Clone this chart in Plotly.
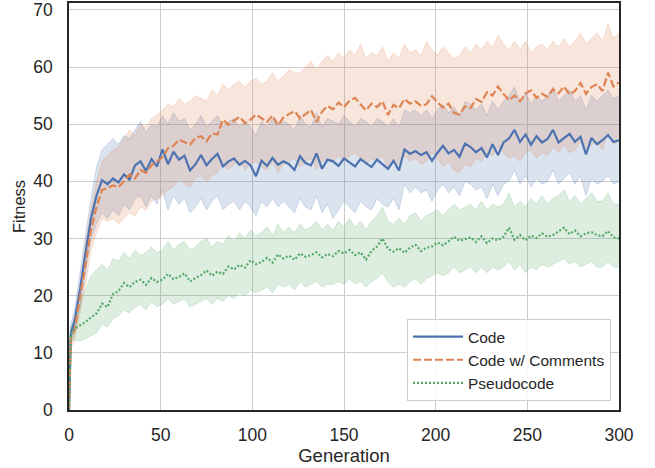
import plotly.graph_objects as go

generations = [0, 1] + list(range(3, 301, 3))

code_mean = [
    0, 13.5, 15.5, 21, 27.5, 33.5, 37.5, 40.2, 39.5, 40.5,
    39.8, 41.2, 40.3, 42.8, 43.5, 41.8, 43.9, 42.6, 45.6, 43.0,
    45.2, 43.8, 44.5, 41.9, 43.0, 44.6, 42.8, 43.9, 44.8, 42.6,
    43.5, 44.0, 42.9, 43.6, 42.8, 40.9, 43.6, 42.7, 44.1, 42.9,
    43.5, 43.0, 42.0, 44.4, 43.2, 42.8, 44.9, 42.2, 43.8, 43.5,
    42.7, 44.0, 43.3, 42.6, 43.9, 43.2, 42.5, 43.8, 43.0, 42.2,
    43.6, 41.9, 45.6, 44.8, 45.3, 44.6, 45.1, 43.6, 45.0, 46.2,
    44.9, 45.5, 44.3, 46.6, 46.0, 45.1, 45.8, 44.2, 46.5, 44.6,
    46.8, 47.5, 49.0, 46.9, 48.2, 46.4, 47.9, 46.8, 47.4, 49.0,
    46.8, 47.6, 48.3, 46.9, 47.8, 44.7, 47.6, 46.5, 47.2, 48.1,
    46.9, 47.2,
]
code_upper = [
    0, 15, 17.5, 24, 31, 37, 42.5, 45.5, 46.5, 47.5,
    46.5, 48, 47.5, 49, 50.5, 48.5, 50, 49.5, 51.5, 50,
    52, 50.5, 51, 49, 50, 51.5, 49.5, 50.5, 51.5, 49.5,
    50.5, 51, 49.5, 50.5, 49.5, 48, 50.5, 49.5, 51, 49.8,
    50.5, 50, 49, 51.5, 50, 49.5, 52, 49.5, 51, 50.5,
    50, 51.5, 50.5, 49.5, 51, 50.5, 49.5, 51, 50.5, 49.5,
    51, 49.5, 52.5, 52, 52.5, 51.5, 52.5, 51, 52.5, 53.5,
    52, 53, 51.5, 54, 53.5, 52.5, 53.5, 51.5, 54, 52.5,
    54, 55, 56.5, 54, 55.5, 53.5, 55, 54, 55, 56.5,
    54, 55, 56, 54, 55, 52.5, 55, 54, 55, 56,
    54.5, 55,
]
code_lower = [
    0, 12, 13.5, 18, 24, 30, 32.5, 34.5, 33.5, 35,
    34, 36, 35, 37, 37.5, 35.5, 37.5, 36, 38.5, 35,
    37.5, 36, 37, 34.5, 35.5, 37, 35, 36.5, 37.5, 35,
    36, 36.5, 35, 36.5, 35.5, 34, 36.5, 35.5, 37, 35.5,
    36.5, 35.5, 34.5, 37, 35.5, 35, 37.5, 34.5, 36, 33.5,
    35, 36.5, 35.5, 34.5, 36.5, 35.5, 35, 37, 36, 35.5,
    37, 35, 39.5, 38, 39, 38, 38.5, 36.5, 38.5, 39.5,
    38, 39, 37.5, 40, 39.5, 38.5, 39, 37, 39.5, 37.5,
    39.5, 40, 42, 39.5, 41, 39, 40.5, 39.5, 40, 42,
    39.5, 40.5, 41.5, 39.5, 41, 37.5, 40.5, 39.5, 40, 41,
    39.5, 40,
]

comments_mean = [
    0, 12.5, 14, 19.5, 25.5, 31.5, 35.5, 38.5, 38.8, 39.3,
    39.0, 40.0, 41.2, 40.5, 42.0, 41.5, 42.8, 43.5, 44.2, 45.8,
    46.2, 47.3, 46.8, 46.4, 47.6, 47.9, 47.0, 48.4, 48.2, 50.8,
    49.9, 50.6, 51.3, 50.2, 50.8, 51.7, 51.0, 50.4, 51.5, 49.8,
    51.2, 51.8, 52.3, 51.0, 51.8, 52.5, 50.4, 52.2, 53.2, 52.6,
    53.8, 53.0, 54.1, 54.6, 53.5, 52.4, 53.6, 53.0, 54.0, 51.6,
    53.4, 52.8, 54.4, 53.6, 54.0, 53.2, 53.5, 54.9, 53.8, 52.9,
    53.6, 52.0, 51.7, 53.1, 52.8, 54.4, 53.9, 55.6, 55.0, 56.6,
    55.3, 54.2, 55.0, 54.0, 55.4, 55.9, 54.6, 55.3, 54.8, 56.1,
    55.4, 56.6, 55.2, 55.8, 57.2, 55.3, 56.5, 57.0, 55.8, 59.0,
    56.6, 57.3,
]
comments_upper = [
    0, 14, 16, 22, 29, 35, 40, 43.5, 44.5, 45.5,
    46, 47.5, 49, 48, 50, 49.5, 51, 51.5, 52.5, 53.5,
    53, 54.5, 53.5, 54, 55, 54.5, 54, 56, 55, 57,
    56, 57, 57.5, 56.5, 57.5, 58, 57, 57.5, 59, 57.5,
    58.5, 59.5, 59, 59, 60, 61, 59.5, 61, 62, 61,
    62.5, 61.5, 63, 62, 64, 61.5, 62.5, 62, 63.5, 61,
    62.5, 61.5, 64, 62.5, 63, 62, 64.5, 63, 62, 63.5,
    62.5, 61.5, 62, 63.5, 62.5, 64, 63, 64.5, 63.5, 65.5,
    64, 63, 64.5, 63, 64.5, 62.5, 63.5, 64, 63, 64.5,
    63.5, 65, 63.5, 64.5, 66, 64, 65, 66, 64.5, 67.5,
    65, 66,
]
comments_lower = [
    0, 11, 12, 17, 22, 28, 31, 33.5, 33, 33.5,
    32.5, 33.5, 34.5, 34, 35.5, 35, 36.5, 37, 37.5, 38.5,
    39, 40.5, 39.5, 39, 40.5, 41, 40, 41, 41.5, 43,
    42, 43, 43.5, 42, 43, 43.5, 42.5, 42, 43.5, 41.5,
    43, 43.5, 44, 42.5, 43.5, 44, 42, 43.5, 44, 43.5,
    44.5, 43.5, 44.5, 45, 44, 43, 44, 43.5, 44.5, 42,
    43.5, 43, 44.5, 43.5, 44, 43, 43.5, 45, 44, 42.5,
    43.5, 42, 41.5, 43, 42.5, 44, 43.5, 45, 44.5, 46,
    45, 44, 44.5, 43.5, 45, 45.5, 44, 45, 44.5, 46,
    45, 46.5, 45, 45.5, 47, 45, 46.5, 47, 45.5, 48.5,
    46.5, 47,
]

pseudo_mean = [
    0, 13.2, 14.2, 14.8, 15.4, 16.2, 16.9, 18.6, 18.0, 20.3,
    20.8, 22.2, 21.5, 22.4, 22.8, 21.9, 23.1, 22.4, 22.8, 23.8,
    22.9, 23.3, 23.9, 22.5, 23.1, 23.6, 24.4, 23.5, 24.2, 23.8,
    25.1, 24.6, 25.4, 24.9, 26.2, 25.5, 25.9, 26.6, 25.8, 27.2,
    26.5, 27.0, 26.3, 27.4, 26.8, 27.1, 27.6, 26.7, 27.3, 26.9,
    27.8, 27.4, 28.0, 27.1, 27.6, 26.3, 27.8, 28.6, 30.0, 28.2,
    27.7, 28.3, 27.5, 28.4, 28.9, 27.8, 28.4, 28.6, 29.3, 28.8,
    29.5, 30.3, 29.6, 29.9, 30.2, 29.4, 30.4, 29.2, 30.0, 29.7,
    30.3, 31.9, 29.8, 30.6, 29.7, 30.5, 30.1, 30.9, 30.3, 30.6,
    31.2, 31.9, 30.8, 31.4, 30.4, 30.9, 31.1, 30.6, 30.4, 31.3,
    30.2, 30.0,
]
pseudo_upper = [
    0, 14.5, 16, 18.5, 21, 23.5, 24.5, 25.5, 24.5, 26.5,
    26, 27.5, 26.5, 28, 27, 27.5, 28.5, 27.5, 28, 29.5,
    28, 29, 29.5, 28, 28.5, 29.5, 30, 28.5, 29.5, 29,
    30.5, 29.5, 31, 30, 31.5, 30.5, 31, 32, 30.5, 32.5,
    31, 32, 31, 32.5, 31.5, 32, 33, 31.5, 32.5, 31.5,
    33, 32, 33.5, 32, 33, 31.5, 33, 34, 35.5, 33,
    32.5, 33.5, 32.5, 34, 34.5, 33, 34, 34.5, 35, 34,
    35, 36, 35, 35.5, 36, 35, 36.5, 35, 36, 35.5,
    36, 38, 35.5, 36.5, 35.5, 37, 36, 37.5, 36, 37,
    37.5, 38.5, 36.5, 37.5, 36, 37, 38, 36.5, 36.5, 38,
    36, 36,
]
pseudo_lower = [
    0, 12, 12.3, 12, 12.5, 13, 13.5, 15, 14.5, 16,
    16.5, 17.5, 17, 18, 18.5, 17.5, 19, 18, 18.5, 19.5,
    18.5, 19, 19.5, 18, 18.5, 19, 19.5, 18.5, 19.5, 19,
    20, 19.5, 20.5, 20, 21, 20.5, 21, 21.5, 20.5, 22,
    21.5, 22, 21, 22.5, 21.5, 22, 22.5, 21.5, 22, 22,
    22.5, 22, 23, 22, 22.5, 21.5, 22.5, 23, 24, 22.5,
    21.5, 22, 21.5, 22.5, 23, 22, 23, 23.5, 24, 23.5,
    24, 25, 24, 24.5, 25, 24, 25, 24, 25, 24.5,
    25, 26, 24.5, 25.5, 24, 25, 24.5, 25.5, 25, 25.5,
    26, 26.5, 25.5, 26, 25, 25.5, 26, 25, 25, 26,
    25, 25,
]

series = [
    ("Code", code_mean, code_lower, code_upper, (76, 114, 176), "solid"),
    ("Code w/ Comments", comments_mean, comments_lower, comments_upper, (221, 132, 82), "8px,3px"),
    ("Pseudocode", pseudo_mean, pseudo_lower, pseudo_upper, (85, 168, 104), "2px,2px"),
]

FONT = "Liberation Sans, Arial, sans-serif"
TXT = "#262626"

fig = go.Figure()
for name, mean, lo, hi, rgb, dash in series:
    r, g, b = rgb
    fig.add_trace(go.Scatter(x=generations, y=lo, mode="lines",
                             line=dict(color=f"rgba({r},{g},{b},0.22)", width=1),
                             showlegend=False, hoverinfo="skip"))
    fig.add_trace(go.Scatter(x=generations, y=hi, mode="lines", fill="tonexty",
                             fillcolor=f"rgba({r},{g},{b},0.2)",
                             line=dict(color=f"rgba({r},{g},{b},0.22)", width=1),
                             showlegend=False, hoverinfo="skip"))
for name, mean, lo, hi, rgb, dash in series:
    r, g, b = rgb
    fig.add_trace(go.Scatter(x=generations, y=mean, mode="lines", name=name,
                             line=dict(color=f"rgb({r},{g},{b})", width=2.2, dash=dash)))

axis_common = dict(
    showgrid=True, gridcolor="#cccccc", gridwidth=1,
    showline=True, linecolor="#262626", linewidth=1.5, mirror=True,
    ticks="outside", tickcolor="rgba(0,0,0,0)",
    tickfont=dict(family=FONT, size=17.5, color=TXT),
    zeroline=False, automargin=False, ticklabeloverflow="allow",
)

fig.update_layout(
    width=655, height=468,
    margin=dict(l=69, r=36, t=3, b=58),
    paper_bgcolor="white", plot_bgcolor="white",
    font=dict(family=FONT, size=16, color=TXT),
    xaxis=dict(range=[0, 300], tickvals=[0, 50, 100, 150, 200, 250, 300], ticklen=8,
               title=dict(text="Generation", standoff=2, font=dict(family=FONT, size=18.5, color=TXT)),
               **axis_common),
    yaxis=dict(range=[0, 71.2], tickvals=[0, 10, 20, 30, 40, 50, 60, 70], ticklen=11,
               title=dict(text="Fitness", standoff=4, font=dict(family=FONT, size=16.5, color=TXT)),
               **axis_common),
    legend=dict(x=0.9855, y=0.022, xanchor="right", yanchor="bottom",
                bgcolor="rgba(255,255,255,0.85)", bordercolor="#cccccc", borderwidth=1,
                font=dict(family=FONT, size=15.5, color=TXT), tracegroupgap=0,
                traceorder="normal", itemwidth=50),
    showlegend=True,
    hovermode=False,
)

fig.write_html("out.html", config={"displayModeBar": False},
               post_script="document.body.style.margin='0px';")
